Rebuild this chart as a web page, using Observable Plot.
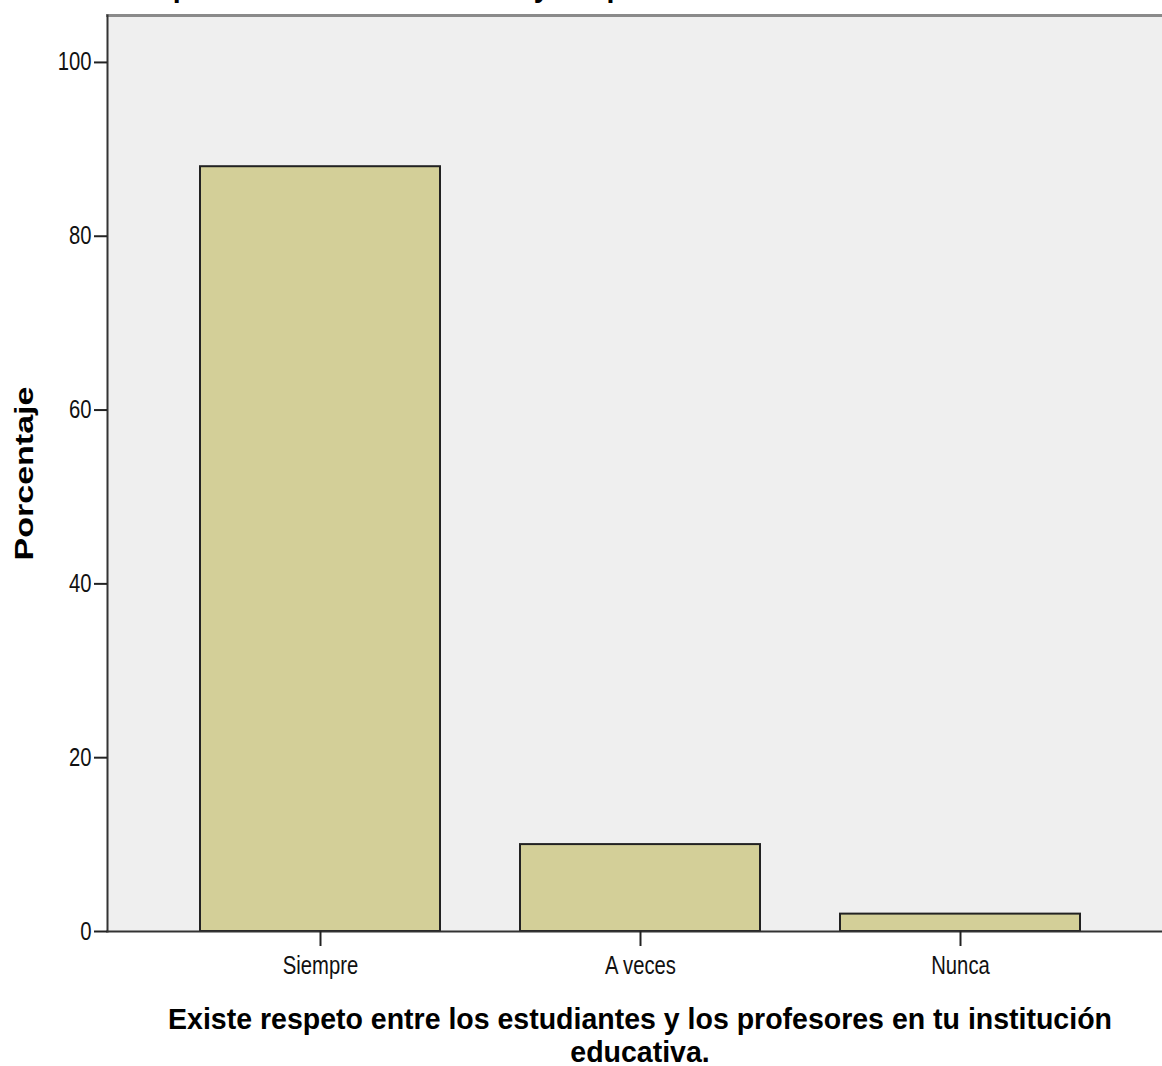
<!DOCTYPE html>
<html>
<head>
<meta charset="utf-8">
<script src="https://cdn.jsdelivr.net/npm/d3@7"></script>
<script src="https://cdn.jsdelivr.net/npm/@observablehq/plot@0.6"></script>
<style>
  html, body { margin: 0; padding: 0; background: #fff; overflow: hidden; }
  #wrap { position: relative; width: 1162px; height: 1066px; overflow: hidden; }
  #title { position: absolute; left: 38px; top: -28px; white-space: nowrap;
           transform: scaleX(0.95); transform-origin: left top;
           font: bold 30px "Liberation Sans", Arial, sans-serif; line-height: 30px; color: #000; }
</style>
</head>
<body>
<div id="wrap">
  <div id="chart"></div>
  <div id="title"></div>
</div>
<script>
const categories = ["Siempre", "A veces", "Nunca"];
const porcentajes = [88.0, 10.0, 2.0];
const yTicks = [0, 20, 40, 60, 80, 100];
const titleText = "Existe respeto entre los estudiantes y los profesores en tu institución educativa.";
const xTitle = "Existe respeto entre los estudiantes y los profesores en tu institución\neducativa.";
const yTitle = "Porcentaje";

document.getElementById("title").textContent = titleText;

const data = categories.map((c, i) => ({categoria: c, porcentaje: porcentajes[i]}));
const font = "'Liberation Sans', Arial, sans-serif";

const chart = Plot.plot({
  width: 1162,
  height: 1066,
  marginLeft: 107,
  marginRight: 0,
  marginTop: 15,
  marginBottom: 135,
  style: {background: "#fff", fontFamily: font, fontSize: "25px", color: "#111"},
  x: {domain: categories, range: [160, 1120], paddingInner: 0.25, paddingOuter: 0.125, label: null},
  y: {domain: [0, 105.4], label: null},
  marks: [
    Plot.frame({fill: "#efefef", stroke: null}),
    Plot.barY(data, {x: "categoria", y: "porcentaje", fill: "#d3cf98", stroke: "#222", strokeWidth: 2}),
    Plot.frame({anchor: "top", stroke: "#8a8a8a", strokeWidth: 3}),
    Plot.frame({anchor: "left", stroke: "#333", strokeWidth: 2}),
    Plot.frame({anchor: "bottom", stroke: "#333", strokeWidth: 2}),
    Plot.axisY({ticks: yTicks, tickSize: 13, tickPadding: 3, strokeWidth: 2, stroke: "#222", label: null, fontSize: 25}),
    Plot.axisX({tickSize: 15, tickPadding: 10, strokeWidth: 2, stroke: "#222", label: null, fontSize: 25}),
    Plot.text([xTitle], {frameAnchor: "bottom", dy: 130, dx: 5, lineAnchor: "bottom", lineHeight: 1.1,
      fontSize: 30, fontWeight: "bold", fill: "#000", fontFamily: font, ariaLabel: () => "x-title"}),
    Plot.text([yTitle], {frameAnchor: "left", textAnchor: "middle", rotate: -90, dx: -83, fontSize: 25, fontWeight: "bold",
      fill: "#000", fontFamily: font, ariaLabel: () => "y-title"})
  ]
});
document.getElementById("chart").appendChild(chart);

function squeeze(selector, k) {
  chart.querySelectorAll(selector).forEach(t => {
    const L = t.getComputedTextLength();
    if (L > 0) {
      t.setAttribute("textLength", (L * k).toFixed(1));
      t.setAttribute("lengthAdjust", "spacingAndGlyphs");
    }
  });
}
squeeze('g[aria-label="y-axis tick label"] text', 0.81);
squeeze('g[aria-label="x-axis tick label"] text', 0.81);
squeeze('text[aria-label="x-title"] tspan', 0.95);
squeeze('text[aria-label="y-title"]', 1.36);
</script>
</body>
</html>
